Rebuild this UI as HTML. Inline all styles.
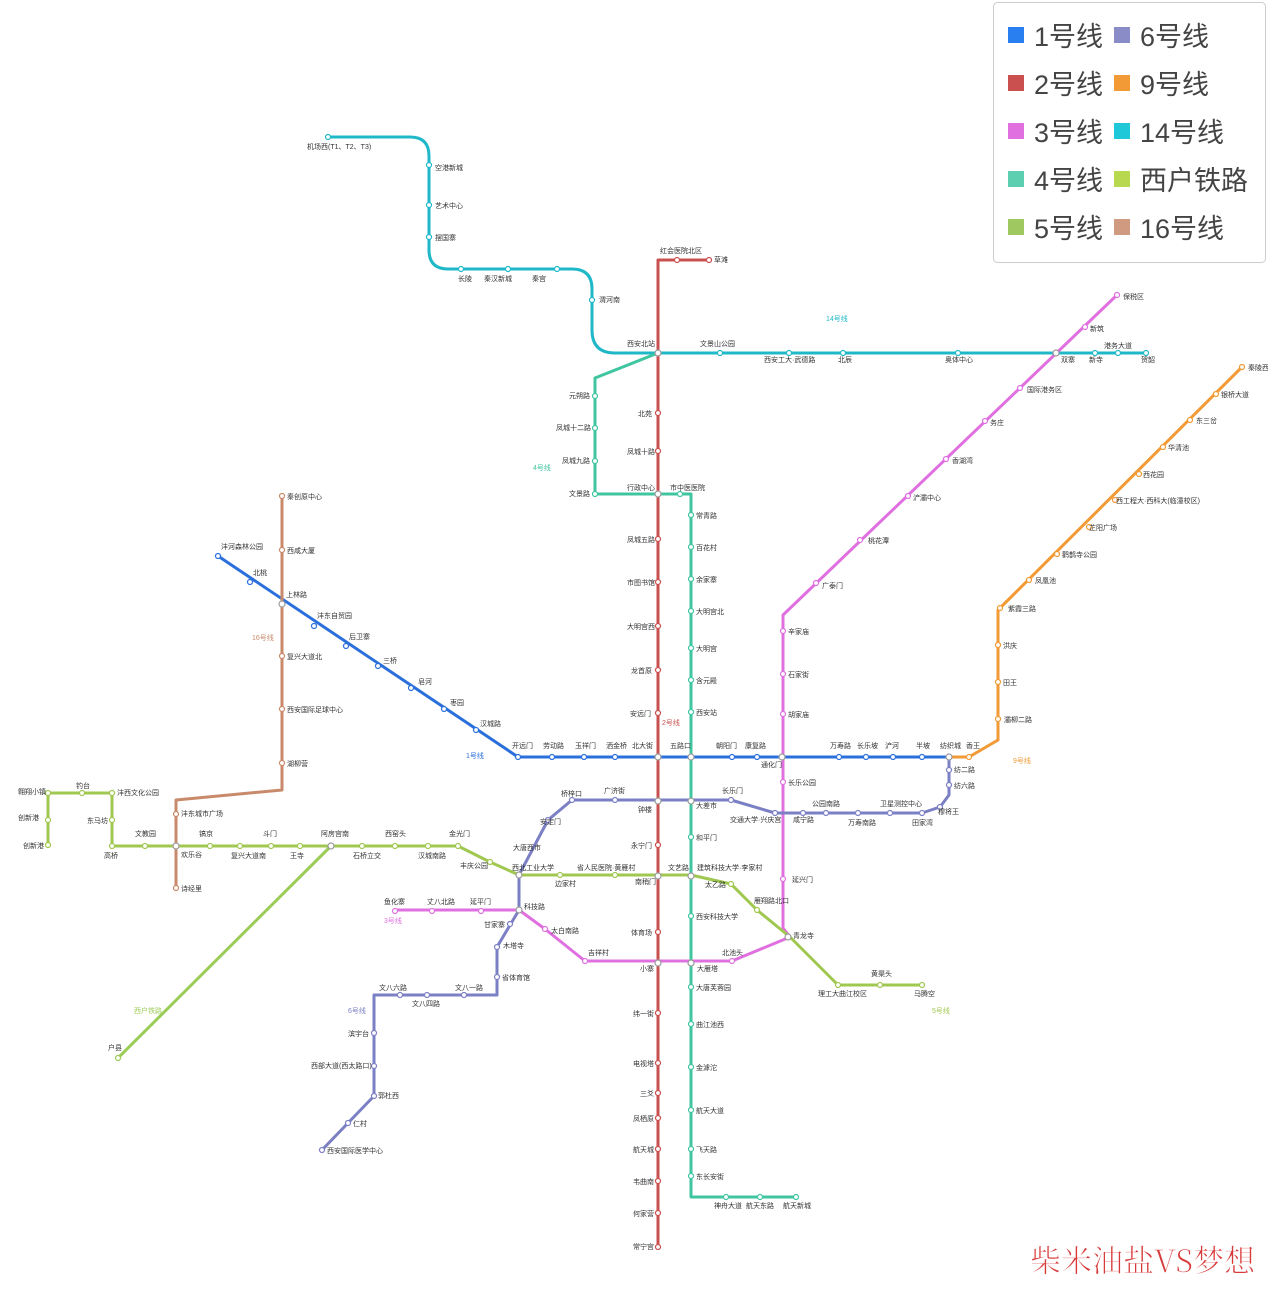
<!DOCTYPE html>
<html><head><meta charset="utf-8"><style>
html,body{margin:0;padding:0;background:#fff;}
svg{display:block;font-family:"Liberation Sans","Noto Sans CJK SC",sans-serif;}
.s{fill:#fff;stroke-width:1.2}
.t{font-size:7px;fill:#333}
.l{fill:none;stroke-width:3;stroke-linejoin:round;stroke-linecap:round}
.lg{font-size:27px;fill:#444}
</style></head><body>
<svg width="1268" height="1294" viewBox="0 0 1268 1294">
<!-- lines -->
<path class="l" stroke="#1fb8c8" d="M328,137 H410 Q429,137 429,156 V250 Q429,269 448,269 H572 Q592,269 592,289 V330 Q592,353 615,353 H1146"/>
<path class="l" stroke="#3fc6a0" d="M658,353 L595,378 V494 H691 V1197 H796"/>
<path class="l" stroke="#c9504f" d="M709,260 H658 V1247"/>
<path class="l" stroke="#2a6fdb" d="M218,556 L518,757 H949"/>
<path class="l" stroke="#e070e0" d="M1117,295 L783,615 V928 L790,937 L732,961 H585 L545,929 L519,910 H395"/>
<path class="l" stroke="#7b7fc4" d="M322,1150 L374,1096 V995 H497 V947 L519,910 V875 L548,820 L572,800 H731 L775,813 H922 L940,807 L949,795 V757"/>
<path class="l" stroke="#f29a36" d="M949,757 H969 L998,740 V610 L1242,367"/>
<path class="l" stroke="#a0c850" d="M48,845 V793 H112 V846 H458 L490,862 L519,875 H691 L731,884 L757,910 L790,937 L838,985 H922"/>
<path class="l" stroke="#c88a6a" d="M282,496 V790 L176,800 V888"/>
<path class="l" stroke="#9ccc58" d="M331,846 L118,1058"/>
<!-- stations -->
<g class="s" stroke="#1fb8c8">
<circle cx="328" cy="137" r="2.5"/><circle cx="429" cy="165" r="2.5"/><circle cx="429" cy="205" r="2.5"/><circle cx="429" cy="237" r="2.5"/><circle cx="461" cy="269" r="2.5"/><circle cx="508" cy="269" r="2.5"/><circle cx="557" cy="269" r="2.5"/><circle cx="592" cy="300" r="2.5"/><circle cx="720" cy="353" r="2.5"/><circle cx="789" cy="353" r="2.5"/><circle cx="843" cy="353" r="2.5"/><circle cx="958" cy="353" r="2.5"/><circle cx="1095" cy="353" r="2.5"/><circle cx="1118" cy="353" r="2.5"/><circle cx="1146" cy="353" r="2.5"/>
</g>
<g class="s" stroke="#3fc6a0">
<circle cx="595" cy="396" r="2.5"/><circle cx="595" cy="428" r="2.5"/><circle cx="595" cy="461" r="2.5"/><circle cx="595" cy="494" r="2.5"/><circle cx="680" cy="494" r="2.5"/>
<circle cx="691" cy="515" r="2.5"/><circle cx="691" cy="547" r="2.5"/><circle cx="691" cy="579" r="2.5"/><circle cx="691" cy="611" r="2.5"/><circle cx="691" cy="648" r="2.5"/><circle cx="691" cy="680" r="2.5"/><circle cx="691" cy="712" r="2.5"/><circle cx="691" cy="837" r="2.5"/><circle cx="691" cy="916" r="2.5"/><circle cx="691" cy="987" r="2.5"/><circle cx="691" cy="1024" r="2.5"/><circle cx="691" cy="1067" r="2.5"/><circle cx="691" cy="1110" r="2.5"/><circle cx="691" cy="1149" r="2.5"/><circle cx="691" cy="1176" r="2.5"/><circle cx="726" cy="1197" r="2.5"/><circle cx="760" cy="1197" r="2.5"/><circle cx="796" cy="1197" r="2.5"/>
</g>
<g class="s" stroke="#c9504f">
<circle cx="709" cy="260" r="2.5"/><circle cx="677" cy="260" r="2.5"/><circle cx="658" cy="413" r="2.5"/><circle cx="658" cy="451" r="2.5"/><circle cx="658" cy="539" r="2.5"/><circle cx="658" cy="582" r="2.5"/><circle cx="658" cy="626" r="2.5"/><circle cx="658" cy="670" r="2.5"/><circle cx="658" cy="713" r="2.5"/><circle cx="658" cy="845" r="2.5"/><circle cx="658" cy="932" r="2.5"/><circle cx="658" cy="1013" r="2.5"/><circle cx="658" cy="1063" r="2.5"/><circle cx="658" cy="1093" r="2.5"/><circle cx="658" cy="1118" r="2.5"/><circle cx="658" cy="1149" r="2.5"/><circle cx="658" cy="1181" r="2.5"/><circle cx="658" cy="1213" r="2.5"/><circle cx="658" cy="1247" r="2.5"/>
</g>
<g class="s" stroke="#2a6fdb">
<circle cx="218" cy="556" r="2.5"/><circle cx="250" cy="582" r="2.5"/><circle cx="314" cy="626" r="2.5"/><circle cx="346" cy="646" r="2.5"/><circle cx="378" cy="666" r="2.5"/><circle cx="411" cy="688" r="2.5"/><circle cx="444" cy="709" r="2.5"/><circle cx="476" cy="730" r="2.5"/><circle cx="518" cy="757" r="2.5"/><circle cx="552" cy="757" r="2.5"/><circle cx="584" cy="757" r="2.5"/><circle cx="615" cy="757" r="2.5"/><circle cx="732" cy="757" r="2.5"/><circle cx="757" cy="757" r="2.5"/><circle cx="839" cy="757" r="2.5"/><circle cx="866" cy="757" r="2.5"/><circle cx="893" cy="757" r="2.5"/><circle cx="922" cy="757" r="2.5"/>
</g>
<g class="s" stroke="#e070e0">
<circle cx="1117" cy="295" r="2.5"/><circle cx="1085" cy="327" r="2.5"/><circle cx="1020" cy="388" r="2.5"/><circle cx="985" cy="421" r="2.5"/><circle cx="946" cy="459" r="2.5"/><circle cx="908" cy="496" r="2.5"/><circle cx="860" cy="540" r="2.5"/><circle cx="816" cy="583" r="2.5"/><circle cx="783" cy="631" r="2.5"/><circle cx="783" cy="674" r="2.5"/><circle cx="783" cy="714" r="2.5"/><circle cx="783" cy="782" r="2.5"/><circle cx="783" cy="879" r="2.5"/><circle cx="732" cy="961" r="2.5"/><circle cx="585" cy="961" r="2.5"/><circle cx="545" cy="929" r="2.5"/><circle cx="481" cy="911" r="2.5"/><circle cx="432" cy="911" r="2.5"/><circle cx="395" cy="911" r="2.5"/>
</g>
<g class="s" stroke="#7b7fc4">
<circle cx="322" cy="1150" r="2.5"/><circle cx="348" cy="1123" r="2.5"/><circle cx="374" cy="1096" r="2.5"/><circle cx="374" cy="1066" r="2.5"/><circle cx="374" cy="1033" r="2.5"/><circle cx="400" cy="995" r="2.5"/><circle cx="427" cy="995" r="2.5"/><circle cx="464" cy="995" r="2.5"/><circle cx="497" cy="977" r="2.5"/><circle cx="497" cy="947" r="2.5"/><circle cx="510" cy="924" r="2.5"/><circle cx="548" cy="820" r="2.5"/><circle cx="572" cy="800" r="2.5"/><circle cx="615" cy="800" r="2.5"/><circle cx="731" cy="800" r="2.5"/><circle cx="775" cy="813" r="2.5"/><circle cx="803" cy="813" r="2.5"/><circle cx="826" cy="813" r="2.5"/><circle cx="858" cy="813" r="2.5"/><circle cx="890" cy="813" r="2.5"/><circle cx="922" cy="813" r="2.5"/><circle cx="940" cy="807" r="2.5"/><circle cx="949" cy="785" r="2.5"/><circle cx="949" cy="770" r="2.5"/>
</g>
<g class="s" stroke="#f29a36">
<circle cx="969" cy="757" r="2.5"/><circle cx="998" cy="719" r="2.5"/><circle cx="998" cy="682" r="2.5"/><circle cx="998" cy="645" r="2.5"/><circle cx="1000" cy="608" r="2.5"/><circle cx="1029" cy="580" r="2.5"/><circle cx="1057" cy="554" r="2.5"/><circle cx="1089" cy="527" r="2.5"/><circle cx="1115" cy="500" r="2.5"/><circle cx="1139" cy="474" r="2.5"/><circle cx="1163" cy="447" r="2.5"/><circle cx="1190" cy="420" r="2.5"/><circle cx="1216" cy="394" r="2.5"/><circle cx="1242" cy="367" r="2.5"/>
</g>
<g class="s" stroke="#a0c850">
<circle cx="48" cy="845" r="2.5"/><circle cx="48" cy="820" r="2.5"/><circle cx="48" cy="793" r="2.5"/><circle cx="82" cy="793" r="2.5"/><circle cx="112" cy="793" r="2.5"/><circle cx="112" cy="820" r="2.5"/><circle cx="112" cy="846" r="2.5"/><circle cx="145" cy="846" r="2.5"/><circle cx="210" cy="846" r="2.5"/><circle cx="240" cy="846" r="2.5"/><circle cx="271" cy="846" r="2.5"/><circle cx="300" cy="846" r="2.5"/><circle cx="362" cy="846" r="2.5"/><circle cx="395" cy="846" r="2.5"/><circle cx="428" cy="846" r="2.5"/><circle cx="458" cy="846" r="2.5"/><circle cx="490" cy="862" r="2.5"/><circle cx="560" cy="875" r="2.5"/><circle cx="615" cy="875" r="2.5"/><circle cx="731" cy="884" r="2.5"/><circle cx="757" cy="910" r="2.5"/><circle cx="838" cy="985" r="2.5"/><circle cx="880" cy="985" r="2.5"/><circle cx="922" cy="985" r="2.5"/>
</g>
<g class="s" stroke="#c88a6a">
<circle cx="282" cy="496" r="2.5"/><circle cx="282" cy="550" r="2.5"/><circle cx="282" cy="656" r="2.5"/><circle cx="282" cy="709" r="2.5"/><circle cx="282" cy="763" r="2.5"/><circle cx="176" cy="814" r="2.5"/><circle cx="176" cy="888" r="2.5"/>
</g>
<circle class="s" stroke="#9ccc58" cx="118" cy="1058" r="2.5"/>
<g class="s" stroke="#999">
<circle cx="658" cy="353" r="3"/><circle cx="1056" cy="353" r="3"/><circle cx="658" cy="494" r="3"/><circle cx="282" cy="604" r="3"/><circle cx="658" cy="757" r="3"/><circle cx="691" cy="757" r="3"/><circle cx="782" cy="757" r="3"/><circle cx="949" cy="757" r="3"/><circle cx="658" cy="801" r="3"/><circle cx="691" cy="801" r="3"/><circle cx="519" cy="875" r="3"/><circle cx="658" cy="876" r="3"/><circle cx="691" cy="876" r="3"/><circle cx="519" cy="910" r="3"/><circle cx="788" cy="937" r="3"/><circle cx="658" cy="963" r="3"/><circle cx="691" cy="963" r="3"/><circle cx="331" cy="846" r="3"/><circle cx="176" cy="846" r="3"/>
</g>
<!-- labels -->
<g class="t">
<text x="307" y="149">机场西(T1、T2、T3)</text><text x="435" y="170">空港新城</text><text x="435" y="208">艺术中心</text><text x="435" y="240">摆国寨</text><text x="458" y="281">长陵</text><text x="484" y="281">秦汉新城</text><text x="532" y="281">秦宫</text><text x="599" y="302">渭河南</text><text x="627" y="346">西安北站</text><text x="700" y="346">文景山公园</text><text x="764" y="362">西安工大·武德路</text><text x="838" y="362">北辰</text><text x="945" y="362">奥体中心</text><text x="1061" y="362">双寨</text><text x="1089" y="362">新寺</text><text x="1104" y="348">港务大道</text><text x="1141" y="362">贺韶</text>
<text x="660" y="253">红会医院北区</text><text x="714" y="262">草滩</text>
<text x="569" y="398">元朔路</text><text x="556" y="430">凤城十二路</text><text x="562" y="463">凤城九路</text><text x="569" y="496">文景路</text>
<text x="638" y="416">北苑</text><text x="627" y="454">凤城十路</text><text x="627" y="490">行政中心</text><text x="670" y="490">市中医医院</text><text x="627" y="542">凤城五路</text><text x="627" y="585">市图书馆</text><text x="627" y="629">大明宫西</text><text x="631" y="673">龙首原</text><text x="630" y="716">安远门</text>
<text x="696" y="518">常青路</text><text x="696" y="550">百花村</text><text x="696" y="582">余家寨</text><text x="696" y="614">大明宫北</text><text x="696" y="651">大明宫</text><text x="696" y="683">含元殿</text><text x="696" y="715">西安站</text>
<text x="287" y="499">秦创原中心</text><text x="287" y="553">西咸大厦</text><text x="286" y="597">上林路</text><text x="287" y="659">复兴大道北</text><text x="287" y="712">西安国际足球中心</text><text x="287" y="766">湖柳营</text><text x="181" y="816">沣东城市广场</text><text x="181" y="857">欢乐谷</text><text x="181" y="891">诗经里</text>
<text x="221" y="549">沣河森林公园</text><text x="253" y="575">北桃</text><text x="317" y="618">沣东自贸园</text><text x="349" y="639">后卫寨</text><text x="383" y="663">三桥</text><text x="418" y="684">皂河</text><text x="450" y="705">枣园</text><text x="480" y="726">汉城路</text>
<text x="512" y="748">开远门</text><text x="543" y="748">劳动路</text><text x="575" y="748">玉祥门</text><text x="606" y="748">洒金桥</text><text x="632" y="748">北大街</text><text x="670" y="748">五路口</text><text x="716" y="748">朝阳门</text><text x="745" y="748">康复路</text><text x="761" y="767">通化门</text><text x="830" y="748">万寿路</text><text x="857" y="748">长乐坡</text><text x="885" y="748">浐河</text><text x="916" y="748">半坡</text><text x="940" y="748">纺织城</text><text x="966" y="748">香王</text>
<text x="1123" y="299">保税区</text><text x="1090" y="331">新筑</text><text x="1027" y="392">国际港务区</text><text x="990" y="425">务庄</text><text x="952" y="463">香湖湾</text><text x="913" y="500">浐灞中心</text><text x="868" y="543">桃花潭</text><text x="822" y="588">广泰门</text><text x="788" y="634">辛家庙</text><text x="788" y="677">石家街</text><text x="788" y="717">胡家庙</text><text x="788" y="785">长乐公园</text><text x="792" y="882">延兴门</text><text x="793" y="938">青龙寺</text>
<text x="1004" y="722">灞柳二路</text><text x="1003" y="685">田王</text><text x="1003" y="648">洪庆</text><text x="1008" y="611">紫霞三路</text><text x="1035" y="583">凤凰池</text><text x="1062" y="557">鹳鹊寺公园</text><text x="1089" y="530">芷阳广场</text><text x="1116" y="503">西工程大·西科大(临潼校区)</text><text x="1143" y="477">西花园</text><text x="1168" y="450">华清池</text><text x="1196" y="423">东三岔</text><text x="1221" y="397">银桥大道</text><text x="1248" y="370">秦陵西</text>
<text x="954" y="772">纺二路</text><text x="954" y="788">纺六路</text><text x="938" y="814">穆将王</text><text x="880" y="806">卫星测控中心</text><text x="912" y="825">田家湾</text><text x="848" y="825">万寿南路</text><text x="812" y="806">公园南路</text><text x="793" y="822">咸宁路</text><text x="730" y="822">交通大学·兴庆宫</text><text x="722" y="793">长乐门</text><text x="696" y="808">大差市</text><text x="638" y="812">钟楼</text><text x="604" y="793">广济街</text><text x="561" y="796">桥梓口</text><text x="540" y="824">安定门</text><text x="513" y="850">大唐西市</text>
<text x="696" y="840">和平门</text><text x="631" y="848">永宁门</text><text x="635" y="884">南稍门</text><text x="668" y="870">文艺路</text><text x="697" y="870">建筑科技大学·李家村</text><text x="705" y="887">太乙路</text><text x="754" y="903">雁翔路北口</text><text x="696" y="919">西安科技大学</text><text x="631" y="935">体育场</text><text x="640" y="971">小寨</text><text x="697" y="971">大雁塔</text><text x="722" y="955">北池头</text><text x="696" y="990">大唐芙蓉园</text><text x="696" y="1027">曲江池西</text><text x="696" y="1070">金滹沱</text><text x="696" y="1113">航天大道</text><text x="696" y="1152">飞天路</text><text x="696" y="1179">东长安街</text><text x="714" y="1208">神舟大道</text><text x="746" y="1208">航天东路</text><text x="783" y="1208">航天新城</text>
<text x="633" y="1016">纬一街</text><text x="633" y="1066">电视塔</text><text x="640" y="1096">三爻</text><text x="633" y="1121">凤栖原</text><text x="633" y="1152">航天城</text><text x="633" y="1184">韦曲南</text><text x="633" y="1216">何家营</text><text x="633" y="1249">常宁宫</text>
<text x="512" y="870">西北工业大学</text><text x="577" y="870">省人民医院·黄雁村</text><text x="555" y="886">边家村</text><text x="460" y="868">丰庆公园</text><text x="524" y="909">科技路</text><text x="484" y="927">甘家寨</text><text x="551" y="933">太白南路</text><text x="588" y="955">吉祥村</text><text x="503" y="948">木塔寺</text><text x="502" y="980">省体育馆</text>
<text x="384" y="904">鱼化寨</text><text x="427" y="904">丈八北路</text><text x="470" y="904">延平门</text>
<text x="379" y="990">文八六路</text><text x="412" y="1006">文八四路</text><text x="455" y="990">文八一路</text><text x="348" y="1036">滨宇台</text><text x="311" y="1068">西部大道(西太路口)</text><text x="378" y="1098">郭杜西</text><text x="353" y="1126">仁村</text><text x="327" y="1153">西安国际医学中心</text>
<text x="18" y="794">翱翔小镇</text><text x="76" y="788">钓台</text><text x="117" y="795">沣西文化公园</text><text x="18" y="820">创新港</text><text x="87" y="823">东马坊</text><text x="23" y="848">创新港</text><text x="104" y="858">高桥</text><text x="135" y="836">文教园</text><text x="199" y="836">镐京</text><text x="263" y="836">斗门</text><text x="231" y="858">复兴大道南</text><text x="290" y="858">王寺</text><text x="321" y="836">阿房宫南</text><text x="353" y="858">石桥立交</text><text x="385" y="836">西窑头</text><text x="418" y="858">汉城南路</text><text x="449" y="836">金光门</text>
<text x="818" y="996">理工大曲江校区</text><text x="871" y="976">黄渠头</text><text x="914" y="996">马腾空</text><text x="108" y="1050">户县</text>
</g>
<g font-size="7">
<text x="826" y="321" fill="#1fb8c8">14号线</text><text x="533" y="470" fill="#3fc6a0">4号线</text><text x="252" y="640" fill="#c88a6a">16号线</text><text x="466" y="758" fill="#2a6fdb">1号线</text><text x="662" y="725" fill="#c9504f">2号线</text><text x="1013" y="763" fill="#f29a36">9号线</text><text x="384" y="923" fill="#e070e0">3号线</text><text x="348" y="1013" fill="#7b7fc4">6号线</text><text x="134" y="1013" fill="#9ccc58">西户铁路</text><text x="932" y="1013" fill="#a0c850">5号线</text>
</g>
<!-- legend -->
<rect x="993.5" y="2.5" width="272" height="260" rx="4" fill="#fff" stroke="#ccc"/>
<rect x="1008" y="27" width="16" height="16" fill="#2a7ff0"/><text class="lg" x="1034" y="46">1号线</text>
<rect x="1114" y="27" width="16" height="16" fill="#8a8cc8"/><text class="lg" x="1140" y="46">6号线</text>
<rect x="1008" y="75" width="16" height="16" fill="#c9504f"/><text class="lg" x="1034" y="94">2号线</text>
<rect x="1114" y="75" width="16" height="16" fill="#f29a36"/><text class="lg" x="1140" y="94">9号线</text>
<rect x="1008" y="123" width="16" height="16" fill="#e070e0"/><text class="lg" x="1034" y="142">3号线</text>
<rect x="1114" y="123" width="16" height="16" fill="#1fc8d8"/><text class="lg" x="1140" y="142">14号线</text>
<rect x="1008" y="171" width="16" height="16" fill="#5ccfb0"/><text class="lg" x="1034" y="190">4号线</text>
<rect x="1114" y="171" width="16" height="16" fill="#b8d850"/><text class="lg" x="1140" y="190">西户铁路</text>
<rect x="1008" y="219" width="16" height="16" fill="#a0c860"/><text class="lg" x="1034" y="238">5号线</text>
<rect x="1114" y="219" width="16" height="16" fill="#d09a80"/><text class="lg" x="1140" y="238">16号线</text>
<text x="1030" y="1272" font-size="31" fill="#d83a3a" stroke="#fff" stroke-width="0.6" font-family="'Noto Serif CJK SC','Liberation Serif',serif">柴米油盐VS梦想</text>
</svg>
</body></html>
